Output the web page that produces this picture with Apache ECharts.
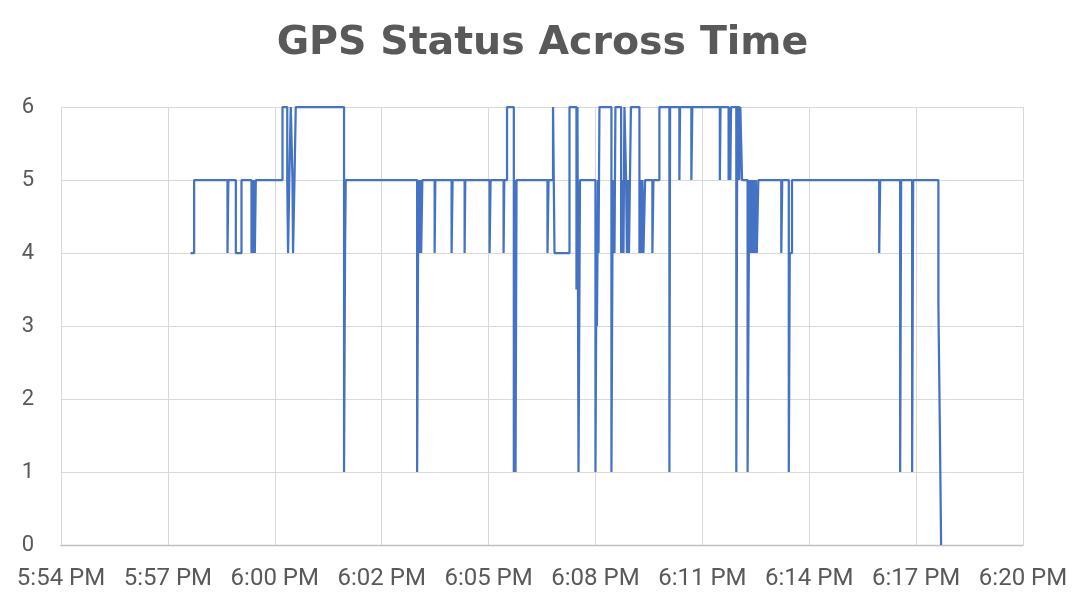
<!DOCTYPE html>
<html>
<head>
<meta charset="utf-8">
<script src="https://cdn.jsdelivr.net/npm/echarts@6/dist/echarts.min.js"></script>
<style>
html,body{margin:0;padding:0;background:#fff;}
#chart{width:1085px;height:604px;}
</style>
</head>
<body>
<div id="chart"></div>
<script>
// Chart title
const chartTitle = 'GPS Status Across Time';
// x axis: seconds after 5:54 PM, tick labels
const tickLabels = ['5:54 PM','5:57 PM','6:00 PM','6:02 PM','6:05 PM','6:08 PM','6:11 PM','6:14 PM','6:17 PM','6:20 PM'];
const axisSpanSeconds = 1560;
// Times (seconds after 5:54 PM) at which GPS status changes
const changeSeconds = [
  210.1, 215.9, 270.0, 271.4, 283.5, 292.7, 308.9, 310.6, 311.9, 313.5, 314.3, 315.9,
  359.2, 366.9, 368.2, 370.2, 372.6, 375.4, 376.3, 378.6, 380.7,
  459.0, 460.6, 461.7,
  577.5, 579.5, 580.4, 582.4, 584.0, 586.0, 605.9, 607.0, 633.4, 635.0, 654.5, 655.6,
  695.0, 696.6, 717.7, 718.8, 723.3, 734.3, 736.0, 737.1, 738.7,
  788.9, 790.6, 797.9, 800.3, 824.6, 835.9, 837.5, 839.2, 841.6,
  866.7, 868.3, 869.1, 870.8, 871.6, 873.2,
  892.6, 894.2, 895.9, 897.5, 899.1,
  908.3, 910.4, 912.1, 913.7, 916.4, 917.7, 919.4, 921.0, 924.2,
  938.0, 939.6, 941.2, 942.8, 944.5, 947.2, 959.0, 960.7, 970.4,
  986.6, 987.7, 1002.8, 1003.9, 1022.2, 1023.8, 1068.4, 1069.5,
  1082.6, 1084.3, 1085.4, 1086.5,
  1095.1, 1096.7, 1100.0, 1101.6, 1104.4,
  1113.4, 1115.4, 1117.0, 1118.6, 1120.2, 1121.9, 1123.5, 1125.1, 1126.7, 1128.3, 1130.8,
  1168.0, 1169.6, 1180.2, 1181.8, 1185.4,
  1326.8, 1328.4, 1360.8, 1362.4, 1380.2, 1381.9,
  1422.8, 1425.1, 1427.2
];
// GPS status value from each change time onward
const statusValues = [
  4, 5, 4, 5, 4, 5, 4, 5, 4, 5, 4, 5,
  6, 5, 4, 5, 6, 5, 4, 5, 6,
  1, 4, 5,
  1, 5, 4, 5, 4, 5, 4, 5, 4, 5, 4, 5,
  4, 5, 4, 5, 6, 1, 5, 1, 5,
  4, 5, 6, 4, 6, 3.5, 6, 1, 5,
  1, 4, 3, 5, 4, 6,
  1, 4, 5, 4, 6,
  4, 5, 4, 6, 5, 4, 5, 4, 6,
  4, 5, 4, 5, 4, 5, 4, 5, 6,
  1, 6, 5, 6, 5, 6, 5, 6,
  5, 6, 5, 6,
  1, 6, 5, 6, 5,
  1, 4, 5, 4, 5, 4, 5, 4, 5, 4, 5,
  4, 5, 1, 4, 5,
  4, 5, 1, 5, 1, 5,
  3.3, 1.65, 0
];

const seriesData = changeSeconds.map((t, i) => [t, statusValues[i]]);
const tickStep = axisSpanSeconds / (tickLabels.length - 1);

const chart = echarts.init(document.getElementById('chart'), null, {renderer: 'canvas'});
chart.setOption({
  animation: false,
  backgroundColor: '#ffffff',
  title: {
    text: chartTitle,
    left: 'center',
    top: 19,
    textStyle: {
      fontFamily: 'DejaVu Sans',
      fontWeight: 'bold',
      fontSize: 39.5,
      color: '#595959'
    }
  },
  grid: {left: 61, right: 62, top: 107, bottom: 59, containLabel: false},
  xAxis: {
    type: 'value',
    min: 0,
    max: axisSpanSeconds,
    interval: tickStep,
    axisLine: {show: true, lineStyle: {color: '#bfbfbf', width: 1.3}},
    axisTick: {show: false},
    splitLine: {show: true, lineStyle: {color: '#d9d9d9', width: 1}},
    axisLabel: {
      margin: 22,
      color: '#595959',
      fontFamily: 'Roboto, sans-serif',
      fontSize: 24,
      showMinLabel: true,
      showMaxLabel: true,
      formatter: v => tickLabels[Math.round(v / tickStep)] || ''
    }
  },
  yAxis: {
    type: 'value',
    min: 0,
    max: 6,
    interval: 1,
    axisLine: {show: false},
    axisTick: {show: false},
    splitLine: {show: true, lineStyle: {color: '#d9d9d9', width: 1}},
    axisLabel: {
      margin: 27,
      color: '#595959',
      fontFamily: 'Roboto, sans-serif',
      fontSize: 22
    }
  },
  series: [{
    type: 'line',
    step: 'end',
    data: seriesData,
    showSymbol: false,
    symbol: 'none',
    lineStyle: {color: '#4472c4', width: 2.25},
    itemStyle: {color: '#4472c4'}
  }]
});
</script>
</body>
</html>
